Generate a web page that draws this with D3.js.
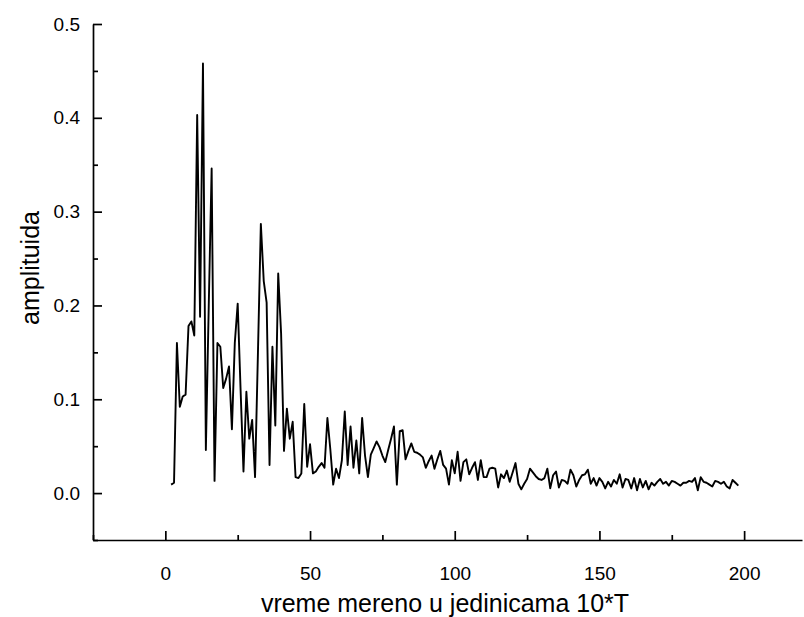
<!DOCTYPE html>
<html>
<head>
<meta charset="utf-8">
<script src="https://cdn.jsdelivr.net/npm/d3@7"></script>
<style>
  html, body { margin: 0; padding: 0; background: #fff; }
  svg { display: block; font-family: "Liberation Sans", Arial, sans-serif; }
</style>
</head>
<body>
<svg id="chart" width="804" height="617"></svg>
<script>
// amplitude samples, one per time step, starting at t = 2
const amp_2_49 = [
  0.009, 0.011, 0.160, 0.092, 0.103, 0.105, 0.178, 0.183, 0.168, 0.403,
  0.188, 0.458, 0.046, 0.200, 0.346, 0.013, 0.160, 0.156, 0.112, 0.122,
  0.135, 0.068, 0.160, 0.202, 0.110, 0.023, 0.108, 0.058, 0.078, 0.017,
  0.150, 0.287, 0.226, 0.203, 0.030, 0.156, 0.072, 0.234, 0.170, 0.045,
  0.090, 0.058, 0.076, 0.017, 0.016, 0.021, 0.095, 0.028
];
const amp_50_99 = [
  0.052, 0.021, 0.023, 0.028, 0.032, 0.027, 0.080, 0.047, 0.009, 0.026,
  0.016, 0.035, 0.087, 0.030, 0.071, 0.027, 0.056, 0.021, 0.080, 0.040,
  0.017, 0.041, 0.048, 0.055, 0.049, 0.040, 0.033, 0.046, 0.058, 0.071,
  0.009, 0.066, 0.067, 0.036, 0.045, 0.053, 0.044, 0.043, 0.041, 0.038,
  0.027, 0.034, 0.040, 0.026, 0.036, 0.045, 0.030, 0.026, 0.009, 0.035
];
const amp_100_149 = [
  0.021, 0.044, 0.013, 0.033, 0.036, 0.020, 0.027, 0.033, 0.014, 0.035,
  0.017, 0.017, 0.026, 0.027, 0.026, 0.006, 0.020, 0.016, 0.024, 0.012,
  0.022, 0.032, 0.010, 0.004, 0.010, 0.015, 0.026, 0.022, 0.018, 0.015,
  0.014, 0.016, 0.026, 0.005, 0.019, 0.023, 0.006, 0.014, 0.013, 0.010,
  0.025, 0.019, 0.007, 0.014, 0.019, 0.020, 0.025, 0.010, 0.016, 0.008
];
const amp_150_198 = [
  0.016, 0.012, 0.005, 0.012, 0.007, 0.014, 0.010, 0.020, 0.006, 0.015,
  0.014, 0.005, 0.016, 0.003, 0.015, 0.006, 0.013, 0.004, 0.011, 0.008,
  0.012, 0.015, 0.010, 0.012, 0.008, 0.013, 0.012, 0.010, 0.008, 0.011,
  0.011, 0.013, 0.012, 0.016, 0.003, 0.017, 0.012, 0.011, 0.009, 0.007,
  0.013, 0.012, 0.010, 0.012, 0.007, 0.005, 0.014, 0.011, 0.008
];
const tStart = 2;

const xMajor = [0, 50, 100, 150, 200];
const xMinor = [-25, 25, 75, 125, 175];
const yMajor = [0.0, 0.1, 0.2, 0.3, 0.4, 0.5];
const yMinor = [-0.05, 0.05, 0.15, 0.25, 0.35, 0.45];

const xTitle = "vreme mereno u jedinicama 10*T";
const yTitle = "amplituida";

const amplitude = amp_2_49.concat(amp_50_99, amp_100_149, amp_150_198);
const data = amplitude.map((v, i) => ({ t: tStart + i, v: v }));

const svg = d3.select("#chart");

// plot frame (left / bottom axis lines only)
const m = { left: 93, right: 802, top: 24, bottom: 540 };

const x = d3.scaleLinear().domain([-25, 220]).range([m.left, m.right]);
const y = d3.scaleLinear().domain([-0.05, 0.5]).range([m.bottom, m.top]);

// minor ticks first, no labels
svg.append("g")
    .attr("transform", `translate(0,${m.bottom})`)
    .call(d3.axisBottom(x).tickValues(xMinor).tickSizeInner(-5).tickSizeOuter(0).tickFormat(""))
    .call(g => g.select(".domain").remove());
svg.append("g")
    .attr("transform", `translate(${m.left},0)`)
    .call(d3.axisLeft(y).tickValues(yMinor).tickSizeInner(-5).tickSizeOuter(0).tickFormat(""))
    .call(g => g.select(".domain").remove());

// major ticks with labels
const xAxis = svg.append("g")
    .attr("transform", `translate(0,${m.bottom})`)
    .call(d3.axisBottom(x).tickValues(xMajor).tickSizeInner(-9).tickSizeOuter(0).tickPadding(27));
const yAxis = svg.append("g")
    .attr("transform", `translate(${m.left},0)`)
    .call(d3.axisLeft(y).tickValues(yMajor).tickFormat(d3.format(".1f"))
        .tickSizeInner(-9).tickSizeOuter(0).tickPadding(14));

[xAxis, yAxis].forEach(g => {
    g.selectAll("text").attr("fill", "#000").attr("font-size", 19)
        .attr("font-family", "'Liberation Sans', Arial, sans-serif");
});
yAxis.selectAll("text").attr("x", -13);
svg.selectAll("g path, g line").attr("stroke", "#000").attr("stroke-width", 1.7);

// the signal
const line = d3.line().x(d => x(d.t)).y(d => y(d.v));
svg.append("path")
    .datum(data)
    .attr("fill", "none")
    .attr("stroke", "#000")
    .attr("stroke-width", 1.9)
    .attr("stroke-linejoin", "round")
    .attr("d", line);

// axis titles
svg.append("text")
    .attr("x", 445)
    .attr("y", 612)
    .attr("text-anchor", "middle")
    .attr("font-size", 25)
    .text(xTitle);

svg.append("text")
    .attr("transform", "translate(39,268) rotate(-90)")
    .attr("text-anchor", "middle")
    .attr("font-size", 25)
    .text(yTitle);
</script>
</body>
</html>
